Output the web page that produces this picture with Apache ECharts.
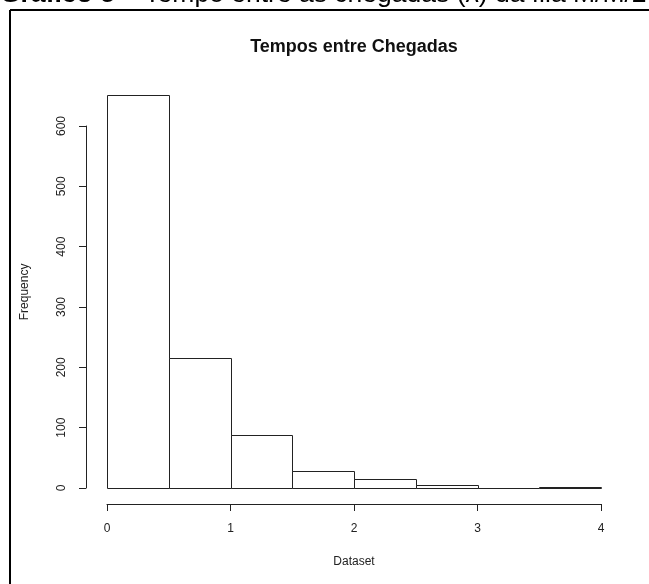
<!DOCTYPE html>
<html>
<head>
<meta charset="utf-8">
<script src="https://cdn.jsdelivr.net/npm/echarts@6/dist/echarts.min.js"></script>
<style>html,body{margin:0;padding:0;background:#fff;}#c{width:649px;height:584px;}</style>
</head>
<body>
<div id="c"></div>
<script>
// Histogram bins (left edges), bin width and counts
var binStarts = [0, 0.5, 1, 1.5, 2, 2.5, 3, 3.5];
var binWidth = 0.5;
var counts = [651, 215, 88, 28, 15, 5, 0, 1];
var xTicks = [0, 1, 2, 3, 4];
var yTicks = [0, 100, 200, 300, 400, 500, 600];
var chartTitle = 'Tempos entre Chegadas';
var headerBold = 'Gráfico 5';
var headerRest = ' – Tempo entre as chegadas (λ) da fila M/M/2';
var xName = 'Dataset';
var yName = 'Frequency';

var FONT = '"Liberation Sans", Arial, sans-serif';
var INK = '#222';
var TXT = '#222';

var histData = binStarts.map(function (s, i) { return [s, s + binWidth, counts[i]]; });

var chart = echarts.init(document.getElementById('c'), null, {renderer: 'canvas'});
chart.setOption({
  animation: false,
  backgroundColor: '#fff',
  graphic: [
    {type: 'line', shape: {x1: 10, y1: 10, x2: 649, y2: 10}, style: {stroke: '#000', lineWidth: 2}},
    {type: 'line', shape: {x1: 10, y1: 10, x2: 10, y2: 584}, style: {stroke: '#000', lineWidth: 2}},
    {type: 'text', x: 0, y: 8, style: {
      text: '{b|' + headerBold + '}{r|' + headerRest + '}',
      verticalAlign: 'bottom', align: 'left',
      rich: {
        b: {fontFamily: FONT, fontSize: 26.5, fontWeight: 'bold', fill: '#000'},
        r: {fontFamily: FONT, fontSize: 26.5, fill: '#000'}
      }
    }},
    {type: 'text', x: 354, y: 47, style: {
      text: chartTitle, fontFamily: FONT, fontSize: 18, fontWeight: 'bold',
      fill: '#111', align: 'center', verticalAlign: 'middle'
    }}
  ],
  grid: [
    {left: 107, right: 48, top: 95.8, bottom: 96},
    {left: 107, right: 48, top: 126, bottom: 96}
  ],
  xAxis: [
    {gridIndex: 0, type: 'value', min: 0, max: 4, interval: 1, offset: 16,
     axisLine: {show: true, onZero: false, lineStyle: {color: INK, width: 1}},
     axisTick: {show: true, length: 7, lineStyle: {color: INK}},
     axisLabel: {show: true, margin: 19, color: TXT, fontSize: 12, fontFamily: FONT,
       customValues: xTicks},
     splitLine: {show: false},
     name: xName, nameLocation: 'middle', nameGap: 52,
     nameTextStyle: {color: TXT, fontSize: 12, fontFamily: FONT}},
    {gridIndex: 1, type: 'value', min: 0, max: 4, show: false}
  ],
  yAxis: [
    {gridIndex: 0, type: 'value', min: 0, max: 650,
     axisLine: {show: false}, axisTick: {show: false}, axisLabel: {show: false},
     splitLine: {show: false},
     name: yName, nameLocation: 'middle', nameGap: 76, nameRotate: 90,
     nameTextStyle: {color: TXT, fontSize: 12, fontFamily: FONT}},
    {gridIndex: 1, type: 'value', min: 0, max: 600, interval: 100, offset: 21,
     axisLine: {show: true, onZero: false, lineStyle: {color: INK, width: 1}},
     axisTick: {show: true, length: 7, lineStyle: {color: INK}},
     axisLabel: {show: true, rotate: 90, margin: 18, color: TXT, fontSize: 12, fontFamily: FONT,
       customValues: yTicks},
     splitLine: {show: false}}
  ],
  series: [{
    type: 'custom',
    xAxisIndex: 0, yAxisIndex: 0,
    clip: false,
    data: histData,
    encode: {x: [0, 1], y: 2},
    renderItem: function (params, api) {
      var p0 = api.coord([api.value(0), 0]);
      var p1 = api.coord([api.value(1), api.value(2)]);
      var x0 = Math.round(p0[0]) + 0.5, x1 = Math.round(p1[0]) + 0.5;
      var yb = Math.round(p0[1]) + 0.5, yt = Math.round(p1[1]) + 0.5;
      return {
        type: 'rect',
        shape: {x: x0, y: yt, width: x1 - x0, height: yb - yt},
        style: {fill: '#fff', stroke: INK, lineWidth: 1}
      };
    }
  }]
});
</script>
</body>
</html>
